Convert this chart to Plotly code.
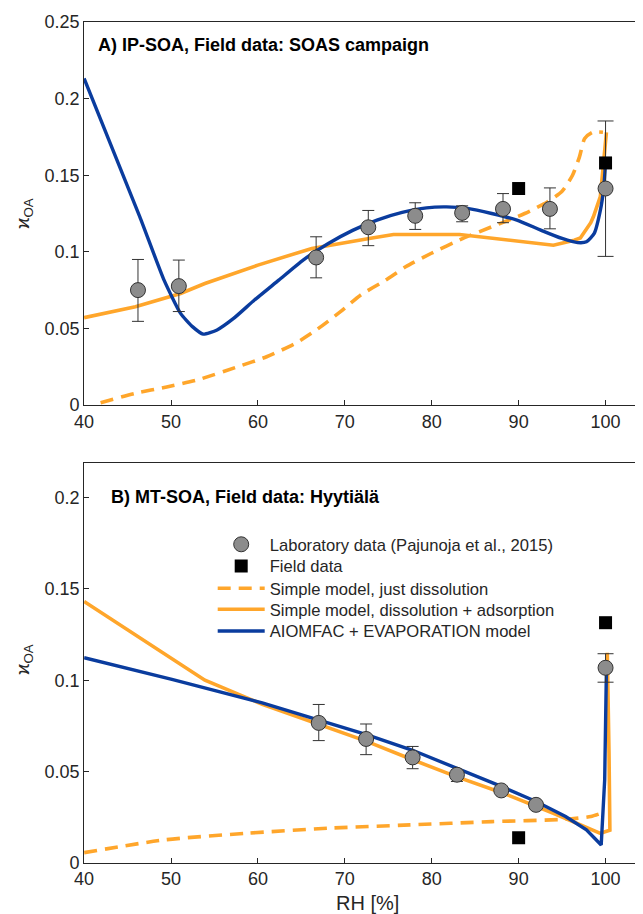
import plotly.graph_objects as go

# ---------------- Panel A data (IP-SOA, SOAS campaign) ----------------
a_lab_rh = [46.2, 50.9, 66.7, 72.7, 78.1, 83.5, 88.2, 93.6, 100.0]
a_lab_k = [0.075, 0.0776, 0.0963, 0.116, 0.1235, 0.1254, 0.128, 0.128, 0.1413]
a_lab_hi = [0.095, 0.0946, 0.1098, 0.127, 0.132, 0.130, 0.138, 0.1417, 0.1854]
a_lab_lo = [0.0546, 0.061, 0.083, 0.104, 0.1146, 0.1196, 0.119, 0.115, 0.097]

a_field_rh = [90.0, 100.0]
a_field_k = [0.1413, 0.158]

a_diss_rh = [41.9, 45.9, 49.5, 53.0, 57.7, 61.0, 64.3, 66.7, 69.5, 71.8, 74.7, 77.0,
             79.9, 83.6, 86.9, 90.7, 93.3, 95.0, 96.2, 97.0, 97.6, 98.5, 99.7]
a_diss_k = [0.0015, 0.0076, 0.0118, 0.0163, 0.025, 0.0315, 0.0402, 0.0489, 0.0609, 0.0717,
            0.0815, 0.0902, 0.0989, 0.1087, 0.1163, 0.125, 0.1325, 0.1395, 0.150, 0.162,
            0.174, 0.178, 0.178]

a_ads_rh = [40.0, 45.9, 51.1, 53.9, 60.0, 66.2, 72.8, 75.6, 83.2, 94.0, 96.4, 97.1, 98.3,
            98.6, 99.4, 99.56, 99.94, 100.1]
a_ads_k = [0.057, 0.0641, 0.0728, 0.0793, 0.0913, 0.1022, 0.1087, 0.1113, 0.1113, 0.1043,
           0.1076, 0.109, 0.119, 0.1229, 0.136, 0.1447, 0.1664, 0.178]

a_aiom_rh = [40.0, 46.4, 49.2, 51.1, 52.5, 53.7, 55.3, 57.2, 59.6, 62.4, 65.2, 68.1,
             70.9, 73.7, 76.6, 79.4, 81.7, 84.1, 86.9, 89.8, 92.6, 95.0, 96.8, 97.8, 98.7,
             99.4, 99.8, 100.0]
a_aiom_k = [0.2132, 0.123, 0.0815, 0.0598, 0.051, 0.0463, 0.049, 0.0565, 0.0685,
            0.0815, 0.0946, 0.1054, 0.114, 0.1207, 0.1257, 0.1287, 0.1293, 0.1283, 0.125,
            0.1207, 0.114, 0.1087, 0.106, 0.1065, 0.112, 0.127, 0.142, 0.158]

# ---------------- Panel B data (MT-SOA, Hyytiälä) ----------------
b_lab_rh = [67.0, 72.45, 77.8, 82.9, 88.0, 92.0, 100.0]
b_lab_k = [0.0766, 0.0678, 0.0577, 0.0482, 0.0396, 0.0317, 0.1068]
b_lab_hi = [0.0867, 0.076, 0.0637, 0.0509, 0.0396, 0.0317, 0.1145]
b_lab_lo = [0.0669, 0.0592, 0.0515, 0.0445, 0.0396, 0.0317, 0.0989]

b_field_rh = [90.0, 100.0]
b_field_k = [0.0137, 0.1315]

b_diss_rh = [40.0, 49.2, 58.6, 68.1, 77.5, 86.9, 95.4, 98.3, 99.5]
b_diss_k = [0.0055, 0.0125, 0.0161, 0.0189, 0.0207, 0.0225, 0.0238, 0.0253, 0.0271]

b_ads_rh = [40.0, 53.9, 60.5, 67.0, 72.45, 77.8, 82.9, 88.0, 94.0, 99.4, 100.5, 100.4, 100.3, 100.2]
b_ads_k = [0.1431, 0.1, 0.0868, 0.0757, 0.0666, 0.0564, 0.047, 0.0385, 0.0271, 0.0161,
           0.0178, 0.06, 0.1, 0.115]

b_aiom_rh = [40.0, 50.1, 60.5, 67.0, 72.5, 77.8, 82.9, 88.0, 92.0, 95.4, 97.8, 99.5,
             99.9, 100.05, 100.1]
b_aiom_k = [0.1123, 0.1004, 0.0876, 0.0784, 0.0702, 0.0616, 0.0519, 0.0418, 0.0335,
            0.0253, 0.018, 0.0097, 0.0454, 0.0912, 0.106]

x_ticks = [40, 50, 60, 70, 80, 90, 100]
a_y_ticks = [0, 0.05, 0.1, 0.15, 0.2, 0.25]
a_y_labels = ["0", "0.05", "0.1", "0.15", "0.2", "0.25"]
b_y_ticks = [0, 0.05, 0.1, 0.15, 0.2]
b_y_labels = ["0", "0.05", "0.1", "0.15", "0.2"]

ORANGE = "#FFA62B"
BLUE = "#0A3C9E"
GRAY = "#8C8C8C"
TXT = "#262626"
FONT = "Liberation Sans, Arial, sans-serif"

W, H = 643, 914
OFF = 8  # page body margin offset


def px(v):
    return (v - OFF) / W


def py(v):
    return 1 - (v - OFF) / H


# legend row centres (screen px)
LEG_ROWS = [545, 566.7, 589, 610, 631.7]

fig = go.Figure()


def lab_trace(xa, ya, rh, k, hi, lo, cap, show):
    return go.Scatter(x=rh, y=k, mode="markers", xaxis=xa, yaxis=ya,
                      marker=dict(symbol="circle", size=15, color=GRAY, line=dict(color="#333333", width=1)),
                      error_y=dict(type="data", symmetric=False,
                                   array=[h - v for h, v in zip(hi, k)],
                                   arrayminus=[v - l for v, l in zip(k, lo)],
                                   color="#333333", thickness=1, width=cap),
                      name="Laboratory data (Pajunoja et al., 2015)", showlegend=show, legend="legend")


def add_panel(xa, ya, diss, ads, aiom, lab, field, show):
    fig.add_trace(go.Scatter(x=diss[0], y=diss[1], mode="lines", xaxis=xa, yaxis=ya,
                             line=dict(color=ORANGE, width=3.6, dash="13px,8px", shape="spline", smoothing=0.6),
                             name="Simple model, just dissolution", showlegend=show, legend="legend3"))
    fig.add_trace(go.Scatter(x=ads[0], y=ads[1], mode="lines", xaxis=xa, yaxis=ya,
                             line=dict(color=ORANGE, width=3.6),
                             name="Simple model, dissolution + adsorption", showlegend=show, legend="legend4"))
    fig.add_trace(go.Scatter(x=aiom[0], y=aiom[1], mode="lines", xaxis=xa, yaxis=ya,
                             line=dict(color=BLUE, width=3.4, shape="spline", smoothing=0.5) if xa == "x" else dict(color=BLUE, width=3.4),
                             name="AIOMFAC + EVAPORATION model", showlegend=show, legend="legend5"))
    rh, k, hi, lo = lab
    # the point at 100 % RH has wider error-bar caps in the original
    fig.add_trace(lab_trace(xa, ya, rh[:-1], k[:-1], hi[:-1], lo[:-1], 6, show))
    fig.add_trace(lab_trace(xa, ya, rh[-1:], k[-1:], hi[-1:], lo[-1:], 8, False))
    fig.add_trace(go.Scatter(x=field[0], y=field[1], mode="markers", xaxis=xa, yaxis=ya,
                             marker=dict(symbol="square", size=13, color="black"),
                             name="Field data", showlegend=show, legend="legend2"))


add_panel("x", "y", (a_diss_rh, a_diss_k), (a_ads_rh, a_ads_k), (a_aiom_rh, a_aiom_k),
          (a_lab_rh, a_lab_k, a_lab_hi, a_lab_lo), (a_field_rh, a_field_k), False)
add_panel("x2", "y2", (b_diss_rh, b_diss_k), (b_ads_rh, b_ads_k), (b_aiom_rh, b_aiom_k),
          (b_lab_rh, b_lab_k, b_lab_hi, b_lab_lo), (b_field_rh, b_field_k), True)

axis_common = dict(showline=True, linecolor=TXT, linewidth=1, mirror=True, ticks="inside",
                   ticklen=5, tickcolor=TXT, showgrid=False, zeroline=False, automargin=False,
                   tickfont=dict(family=FONT, size=18, color=TXT))

xdom = [px(84.1), px(649.0)]


def legend_box(row_y):
    return dict(x=px(212.7), y=py(row_y - 18), xanchor="left", yanchor="top",
                bgcolor="rgba(0,0,0,0)", font=dict(family=FONT, size=16.6, color=TXT),
                itemwidth=47)


fig.update_layout(
    width=W, height=H, autosize=False, plot_bgcolor="white", paper_bgcolor="white",
    margin=dict(l=0, r=0, t=0, b=0, pad=0, autoexpand=False),
    xaxis=dict(domain=xdom, range=[40, 105], tickvals=x_ticks, anchor="y", **axis_common),
    yaxis=dict(domain=[py(405), py(22)], range=[0, 0.25], tickvals=a_y_ticks,
               ticktext=a_y_labels, anchor="x", **axis_common),
    xaxis2=dict(domain=xdom, range=[40, 105], tickvals=x_ticks, anchor="y2", **axis_common),
    yaxis2=dict(domain=[py(862.7), py(463)], range=[0, 0.219], tickvals=b_y_ticks,
                ticktext=b_y_labels, anchor="x2", **axis_common),
    showlegend=True,
    legend=legend_box(LEG_ROWS[0]),
    legend2=legend_box(LEG_ROWS[1]),
    legend3=legend_box(LEG_ROWS[2]),
    legend4=legend_box(LEG_ROWS[3]),
    legend5=legend_box(LEG_ROWS[4]),
    annotations=[
        dict(text="<b>A) IP-SOA, Field data: SOAS campaign</b>", x=px(96.4), y=py(45),
             xref="paper", yref="paper", xanchor="left", yanchor="middle", showarrow=False,
             font=dict(family=FONT, size=18, color="black")),
        dict(text="<b>B) MT-SOA, Field data: Hyytiälä</b>", x=px(108.6), y=py(497),
             xref="paper", yref="paper", xanchor="left", yanchor="middle", showarrow=False,
             font=dict(family=FONT, size=18, color="black")),
        dict(text="ϰ<sub>OA</sub>", x=px(24), y=py(214), xref="paper", yref="paper",
             textangle=-90, showarrow=False, xanchor="center", yanchor="middle",
             font=dict(family=FONT, size=19, color=TXT)),
        dict(text="ϰ<sub>OA</sub>", x=px(24), y=py(660), xref="paper", yref="paper",
             textangle=-90, showarrow=False, xanchor="center", yanchor="middle",
             font=dict(family=FONT, size=19, color=TXT)),
        dict(text="RH [%]", x=px(367), y=py(902.7), xref="paper", yref="paper",
             showarrow=False, xanchor="center", yanchor="middle",
             font=dict(family=FONT, size=20, color=TXT)),
    ],
)

fig.write_html("out.html")
